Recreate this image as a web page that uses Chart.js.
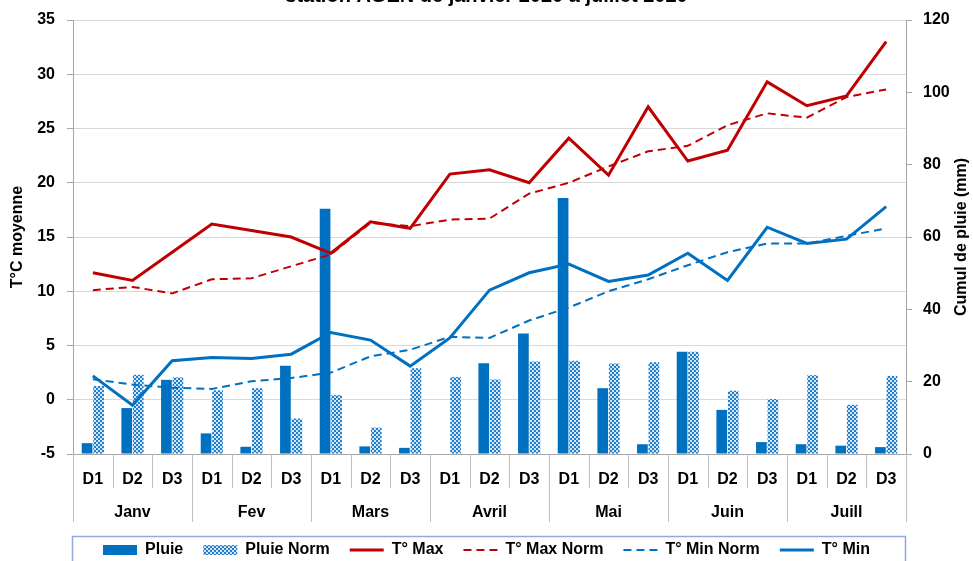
<!DOCTYPE html>
<html lang="fr">
<head>
<meta charset="utf-8">
<title>Station AGEN de janvier 2020 à juillet 2020</title>
<script src="https://cdn.jsdelivr.net/npm/chart.js@4.4.1/dist/chart.umd.min.js"></script>
<style>
  html, body { margin: 0; padding: 0; background: #fff; overflow: hidden; }
  #wrap { position: relative; width: 973px; height: 561px; overflow: hidden; }
  #graph { position: absolute; left: 0; top: -20px; }
</style>
</head>
<body>
<div id="wrap"><canvas id="graph" width="973" height="588"></canvas></div>
<script>
// decades of each month (D1 / D2 / D3)
const decades = ['D1', 'D2', 'D3', 'D1', 'D2', 'D3', 'D1', 'D2', 'D3', 'D1', 'D2', 'D3',
                 'D1', 'D2', 'D3', 'D1', 'D2', 'D3', 'D1', 'D2', 'D3'];
const months = ['Janv', 'Fev', 'Mars', 'Avril', 'Mai', 'Juin', 'Juill'];

// rain (mm, right axis)
const pluie     = [3.0, 12.7, 20.5, 5.7, 2.0, 24.4, 67.8, 2.1, 1.7, 0, 25.1, 33.3,
                   70.8, 18.2, 2.7, 28.3, 12.2, 3.3, 2.7, 2.3, 1.9];
const pluieNorm = [18.8, 21.9, 21.2, 17.6, 18.2, 9.8, 16.3, 7.3, 23.7, 21.3, 20.6, 25.6,
                   25.8, 25.0, 25.4, 28.3, 17.5, 15.2, 21.8, 13.6, 21.6];

// temperatures (°C, left axis)
const tMax     = [11.7, 11.0, 13.6, 16.2, 15.6, 15.0, 13.5, 16.4, 15.8, 20.8, 21.2, 20.0,
                  24.1, 20.7, 27.0, 22.0, 23.0, 29.3, 27.1, 28.0, 33.0];
const tMaxNorm = [10.1, 10.4, 9.8, 11.1, 11.2, 12.3, 13.4, 16.3, 16.0, 16.6, 16.7, 19.0,
                  20.0, 21.5, 22.9, 23.4, 25.3, 26.4, 26.0, 27.9, 28.6];
const tMinNorm = [1.9, 1.4, 1.1, 1.0, 1.7, 2.0, 2.5, 4.0, 4.6, 5.8, 5.7, 7.3,
                  8.5, 10.0, 11.1, 12.4, 13.6, 14.4, 14.4, 15.1, 15.8];
const tMin     = [2.2, -0.5, 3.6, 3.9, 3.8, 4.2, 6.2, 5.5, 3.1, 5.7, 10.1, 11.7,
                  12.5, 10.9, 11.5, 13.5, 11.0, 15.9, 14.4, 14.8, 17.8];

const legendOrder = ['Pluie', 'Pluie Norm', 'T° Max', 'T° Max Norm', 'T° Min Norm', 'T° Min'];

const FONT = "'Liberation Sans', Arial, sans-serif";
const AXIS_GREY = '#a6a6a6';
const BLUE = '#0070C0';
const RED = '#C00000';

function checkerPattern() {
    let c = document.createElement('canvas');
    c.width = 4; c.height = 4;
    let g = c.getContext('2d');
    g.fillStyle = '#d4e5f6';
    g.fillRect(0, 0, 4, 4);
    g.fillStyle = '#1f7fcc';
    g.fillRect(0, 0, 2, 2);
    g.fillRect(2, 2, 2, 2);
    return g.createPattern(c, 'repeat');
}

// vertical separators of the two-level category axis + legend frame + right title
const decorations = {
    id: 'decorations',
    afterDraw(chart) {
        const { ctx, chartArea, scales } = chart;
        const x = scales.x;
        const n = decades.length;
        ctx.save();
        ctx.strokeStyle = '#bfbfbf';
        ctx.lineWidth = 1;
        for (let i = 0; i <= n; i++) {
            let px;
            if (i === 0) px = chartArea.left;
            else if (i === n) px = chartArea.right;
            else px = (x.getPixelForTick(i - 1) + x.getPixelForTick(i)) / 2;
            const bottom = (i % 3 === 0) ? scales.x2.bottom : x.bottom;
            ctx.beginPath();
            ctx.moveTo(Math.round(px) + 0.5, chartArea.bottom);
            ctx.lineTo(Math.round(px) + 0.5, bottom);
            ctx.stroke();
        }

        // legend frame
        const lg = chart.legend;
        const textMid = lg.top + lg.options.labels.padding + 8;
        ctx.strokeStyle = '#8faadc';
        ctx.lineWidth = 1.5;
        ctx.strokeRect(chartArea.left - 0.5, textMid - 13.5, chartArea.right - chartArea.left, 40);

        // right axis title, reading upwards
        ctx.fillStyle = '#000';
        ctx.font = 'bold 16px ' + FONT;
        ctx.textAlign = 'center';
        ctx.textBaseline = 'middle';
        ctx.translate(962, (chartArea.top + chartArea.bottom) / 2);
        ctx.rotate(-Math.PI / 2);
        ctx.fillText('Cumul de pluie (mm)', 0, 0);
        ctx.restore();
    }
};

let graph_element = document.getElementById('graph').getContext('2d');

let graph = new Chart(graph_element, {
    type: 'bar',
    data: {
        labels: decades,
        datasets: [
            {
                type: 'line', label: 'T° Max', data: tMax, yAxisID: 'y', order: 0,
                borderColor: RED, backgroundColor: RED, borderWidth: 3, pointRadius: 0, tension: 0
            },
            {
                type: 'line', label: 'T° Max Norm', data: tMaxNorm, yAxisID: 'y', order: 0,
                borderColor: RED, backgroundColor: RED, borderWidth: 2, borderDash: [8, 5], pointRadius: 0, tension: 0
            },
            {
                type: 'line', label: 'T° Min Norm', data: tMinNorm, yAxisID: 'y', order: 0,
                borderColor: BLUE, backgroundColor: BLUE, borderWidth: 2, borderDash: [8, 5], pointRadius: 0, tension: 0
            },
            {
                type: 'line', label: 'T° Min', data: tMin, yAxisID: 'y', order: 0,
                borderColor: BLUE, backgroundColor: BLUE, borderWidth: 3, pointRadius: 0, tension: 0
            },
            {
                label: 'Pluie', data: pluie, yAxisID: 'y2', order: 1,
                backgroundColor: BLUE, borderWidth: 0,
                categoryPercentage: 0.58, barPercentage: 0.93
            },
            {
                label: 'Pluie Norm', data: pluieNorm, yAxisID: 'y2', order: 1,
                backgroundColor: checkerPattern(), borderWidth: 0,
                categoryPercentage: 0.58, barPercentage: 0.93
            }
        ]
    },
    options: {
        responsive: false,
        animation: false,
        devicePixelRatio: 1,
        layout: { padding: 0 },
        plugins: {
            tooltip: { enabled: false },
            title: {
                display: true,
                text: 'station AGEN de janvier 2020 à juillet 2020',
                color: '#000',
                font: { size: 20, weight: 'bold', family: FONT },
                padding: { top: 4, bottom: 12 }
            },
            legend: {
                position: 'bottom',
                labels: {
                    usePointStyle: true,
                    pointStyleWidth: 34,
                    boxHeight: 10,
                    padding: 20,
                    color: '#000',
                    font: { size: 16, weight: 'bold', family: FONT },
                    generateLabels: (chart) => legendOrder.map((name) => {
                        const i = chart.data.datasets.findIndex((d) => d.label === name);
                        const ds = chart.data.datasets[i];
                        const isLine = ds.type === 'line';
                        return {
                            text: name,
                            datasetIndex: i,
                            fillStyle: isLine ? 'rgba(0,0,0,0)' : ds.backgroundColor,
                            strokeStyle: isLine ? ds.borderColor : 'rgba(0,0,0,0)',
                            lineWidth: isLine ? ds.borderWidth : 0,
                            lineDash: ds.borderDash || [],
                            pointStyle: isLine ? 'line' : 'rect',
                            hidden: false,
                            fontColor: '#000'
                        };
                    })
                }
            }
        },
        scales: {
            x: {
                weight: 0,
                offset: true,
                afterFit: (scale) => { scale.height = 34; },
                grid: { display: false, drawTicks: false },
                border: { display: true, color: AXIS_GREY, width: 1 },
                ticks: {
                    padding: 16,
                    color: '#000',
                    maxRotation: 0,
                    autoSkip: false,
                    font: { size: 16, weight: 'bold', family: FONT }
                }
            },
            x2: {
                type: 'category',
                labels: months,
                position: 'bottom',
                weight: 1,
                offset: true,
                afterFit: (scale) => { scale.height = 34; },
                grid: { display: false, drawTicks: false },
                border: { display: false },
                ticks: {
                    padding: 15,
                    color: '#000',
                    maxRotation: 0,
                    autoSkip: false,
                    font: { size: 16, weight: 'bold', family: FONT }
                }
            },
            y: {
                position: 'left',
                min: -5,
                max: 35,
                afterFit: (scale) => { scale.width = 73; },
                ticks: {
                    stepSize: 5,
                    padding: 12,
                    color: '#000',
                    font: { size: 16, weight: 'bold', family: FONT }
                },
                grid: { color: '#d9d9d9', tickColor: AXIS_GREY, tickLength: 6 },
                border: { color: AXIS_GREY },
                title: {
                    display: true,
                    text: 'T°C moyenne',
                    color: '#000',
                    font: { size: 16, weight: 'bold', family: FONT },
                    padding: { top: 8, bottom: 0 }
                }
            },
            y2: {
                position: 'right',
                min: 0,
                max: 120,
                afterFit: (scale) => { scale.width = 67; },
                ticks: {
                    stepSize: 20,
                    padding: 11,
                    color: '#000',
                    font: { size: 16, weight: 'bold', family: FONT }
                },
                grid: { drawOnChartArea: false, tickColor: AXIS_GREY, tickLength: 6 },
                border: { color: AXIS_GREY }
            }
        }
    },
    plugins: [decorations]
});
</script>
</body>
</html>
